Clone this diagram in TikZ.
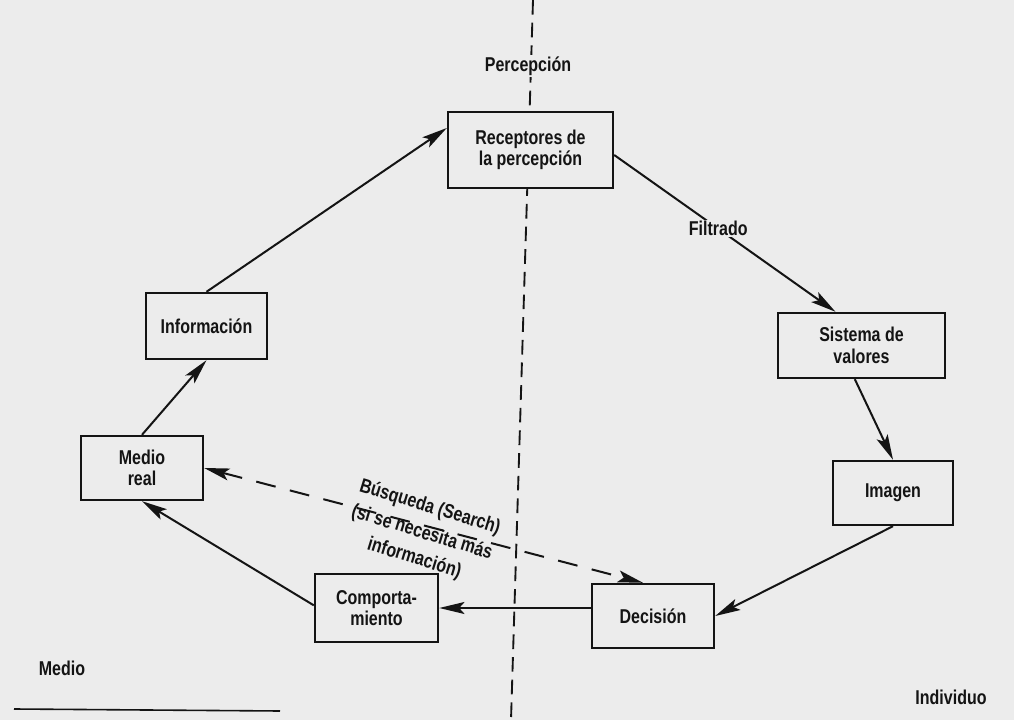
\documentclass[tikz,border=0pt]{standalone}
\usepackage{fontspec}
\setmainfont{Liberation Sans}[FakeStretch=0.8]
\usetikzlibrary{arrows.meta,calc}
\definecolor{paper}{RGB}{236,236,236}
\definecolor{ink}{RGB}{20,20,20}
\tikzset{
  txt/.style={font=\fontsize{15}{16}\selectfont\bfseries, text=ink, align=center},
  box/.style={txt, draw=ink, fill=paper, line width=1.8pt, inner sep=0pt},
  lbl/.style={txt, inner sep=1pt},
  tip/.tip={Stealth[length=19pt,width=9pt,inset=4pt]},
  arr/.style={draw=ink, line width=1.5pt, -tip},
  search/.style={draw=ink, line width=1.5pt, tip-tip, dash pattern=on 15pt off 11pt},
  divider/.style={draw=ink, line width=1.4pt, dash pattern=on 11pt off 6pt}
}
\begin{document}
\begin{tikzpicture}[x=0.75pt,y=-0.75pt]
\fill[paper] (0,0) rectangle (1014,720);
\useasboundingbox (0,0) rectangle (1014,720);

% vertical divider
\coordinate (dtop) at (533,0);
\coordinate (dbot) at (511,720);
\draw[divider] (dtop) -- (dbot);
\node[lbl, fill=paper] (perc) at (528,66) {Percepción};

% bottom rule
\coordinate (ra) at (14,709);
\coordinate (rb) at (280,711);
\draw[ink, line width=1.2pt] (ra) -- (rb);

% boxes
\node[box, minimum width=123.75pt, minimum height=57pt] (rec) at (530.5,150) {Receptores de\\la percepción};
\node[box, minimum width=125.25pt, minimum height=48.75pt] (sis) at (861.5,345.5) {Sistema de\\valores};
\node[box, minimum width=90pt, minimum height=48pt] (ima) at (893,493) {Imagen};
\node[box, minimum width=91.5pt, minimum height=48pt] (dec) at (653,616) {Decisión};
\node[box, minimum width=92.25pt, minimum height=51pt] (com) at (376.5,608) {Comporta-\\miento};
\node[box, minimum width=91.5pt, minimum height=48pt] (med) at (142,468) {Medio\\real};
\node[box, minimum width=90.75pt, minimum height=49.5pt] (inf) at (206.5,326) {Información};

% connectors
\draw[arr] (inf.north) -- ([yshift=16.5pt]rec.west);
\draw[arr] ([yshift=-3.75pt]rec.east) -- node[lbl, fill=paper, pos=0.47] (filt) {Filtrado} ([xshift=-19.5pt]sis.north);
\draw[arr] ([xshift=-5pt]sis.south) -- (ima.north);
\draw[arr] (ima.south) -- (dec.east);
\draw[arr] (dec.west |- com.east) -- (com.east);
\draw[arr] ([yshift=2pt]com.west) -- (med.south);
\draw[arr] (med.north) -- (inf.south);
\draw[search] (med.east) -- ([xshift=-7.5pt]dec.north);
\node[lbl, rotate=-17] (srch) at (422,533) {Búsqueda (Search)\\[4pt](si se necesita más\\[4pt]información)};

% region labels
\node[lbl] (medio) at (62,668) {Medio};
\node[lbl] (indiv) at (951,697) {Individuo};
\end{tikzpicture}
\end{document}
